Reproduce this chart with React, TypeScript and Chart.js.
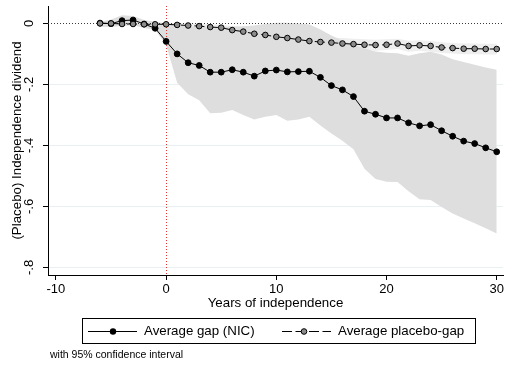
import React, { useEffect, useRef } from 'react';
import { Chart, registerables } from 'chart.js';

Chart.register(...registerables);

const years = [-6, -5, -4, -3, -2, -1, 0, 1, 2, 3, 4, 5, 6, 7, 8, 9, 10, 11, 12, 13, 14, 15, 16, 17, 18, 19, 20, 21, 22, 23, 24, 25, 26, 27, 28, 29, 30];

const gapNIC = [0.001, -0.001, 0.009, 0.011, -0.002, -0.016,
  -0.059, -0.100, -0.129, -0.138, -0.160, -0.160, -0.152, -0.160, -0.173, -0.156, -0.153, -0.159, -0.158, -0.157, -0.177, -0.204, -0.218, -0.240, -0.288, -0.298, -0.310, -0.310, -0.326, -0.336, -0.332, -0.352, -0.370, -0.386, -0.394, -0.408, -0.421];

const placeboGap = [0.000, 0.000, -0.002, -0.002, -0.003, -0.003,
  -0.003, -0.005, -0.007, -0.009, -0.012, -0.014, -0.022, -0.027, -0.034, -0.038, -0.044, -0.048, -0.053, -0.058, -0.061, -0.063, -0.066, -0.068, -0.070, -0.071, -0.070, -0.066, -0.074, -0.072, -0.074, -0.079, -0.081, -0.083, -0.083, -0.084, -0.084];

const nicUpper = [0.005, 0.013, 0.027, 0.024, 0.011, 0.005,
  0.000, -0.006, -0.010, -0.012, -0.012, -0.012, -0.010, -0.009, -0.007, -0.002, 0.002, 0.002, 0.000, -0.004, -0.020, -0.040, -0.057, -0.070, -0.082, -0.092, -0.096, -0.098, -0.106, -0.098, -0.093, -0.102, -0.118, -0.127, -0.136, -0.145, -0.152];

const nicLower = [-0.011, -0.012, -0.008, -0.006, -0.015, -0.022,
  -0.070, -0.195, -0.232, -0.252, -0.295, -0.293, -0.284, -0.300, -0.315, -0.306, -0.300, -0.319, -0.315, -0.306, -0.335, -0.361, -0.385, -0.413, -0.477, -0.510, -0.519, -0.520, -0.550, -0.577, -0.579, -0.602, -0.623, -0.640, -0.655, -0.672, -0.689];

const placeboUpper = [0.004, 0.004, 0.003, 0.003, 0.002, 0.002,
  0.002, 0.001, 0.000, -0.001, -0.003, -0.005, -0.009, -0.013, -0.019, -0.022, -0.027, -0.031, -0.036, -0.040, -0.042, -0.046, -0.048, -0.050, -0.052, -0.054, -0.052, -0.050, -0.057, -0.055, -0.058, -0.062, -0.064, -0.066, -0.066, -0.067, -0.067];

const placeboLower = [-0.004, -0.004, -0.007, -0.007, -0.008, -0.008,
  -0.009, -0.011, -0.014, -0.017, -0.021, -0.027, -0.035, -0.041, -0.049, -0.054, -0.061, -0.065, -0.070, -0.076, -0.078, -0.082, -0.084, -0.086, -0.088, -0.090, -0.087, -0.084, -0.093, -0.090, -0.093, -0.097, -0.099, -0.101, -0.101, -0.102, -0.102];

const xTicks = [-10, 0, 10, 20, 30];
const xTickLabels = ['-10', '0', '10', '20', '30'];
const yTicks = [-0.8, -0.6, -0.4, -0.2, 0];
const yTickLabels = ['-.8', '-.6', '-.4', '-.2', '0'];

const X_MIN = -10.72;
const X_MAX = 30.57;
const Y_MIN = -0.825;
const Y_MAX = 0.057;

const seriesLabels = ['Average gap (NIC)', 'Average placebo-gap'];
const xTitle = 'Years of independence';
const yTitle = '(Placebo) Independence dividend';
const note = 'with 95% confidence interval';

const FONT = 'Liberation Sans, Arial, Helvetica, sans-serif';

const pts = (vals: number[]) => years.map((x, i) => ({ x, y: vals[i] }));

const refLines = {
  id: 'refLines',
  beforeDatasetsDraw(chart: any) {
    const { ctx, chartArea, scales } = chart;
    ctx.save();
    ctx.lineWidth = 1;
    ctx.setLineDash([1, 2]);
    const y0 = Math.round(scales.y.getPixelForValue(0)) + 0.5;
    ctx.strokeStyle = '#3a3a3a';
    ctx.beginPath();
    ctx.moveTo(chartArea.left, y0);
    ctx.lineTo(chartArea.right, y0);
    ctx.stroke();
    const x0 = Math.round(scales.x.getPixelForValue(0)) + 0.5;
    ctx.strokeStyle = '#e8322b';
    ctx.beginPath();
    ctx.moveTo(x0, chartArea.top);
    ctx.lineTo(x0, chartArea.bottom);
    ctx.stroke();
    ctx.restore();
  },
};

const stataLegend = {
  id: 'stataLegend',
  afterDraw(chart: any) {
    const { ctx } = chart;
    ctx.save();
    ctx.lineWidth = 1;
    ctx.strokeStyle = '#000';
    ctx.setLineDash([]);
    ctx.strokeRect(82.5, 318.5, 393, 25);
    const ly = 331.5;
    // item 1
    ctx.beginPath();
    ctx.moveTo(88, ly);
    ctx.lineTo(137, ly);
    ctx.stroke();
    ctx.beginPath();
    ctx.arc(113, ly, 3.2, 0, Math.PI * 2);
    ctx.fillStyle = '#000';
    ctx.fill();
    ctx.font = `13.3px ${FONT}`;
    ctx.textBaseline = 'middle';
    ctx.textAlign = 'left';
    ctx.fillStyle = '#000';
    ctx.fillText(seriesLabels[0], 144, ly);
    // item 2
    ctx.setLineDash([10, 3.5]);
    ctx.beginPath();
    ctx.moveTo(282, ly);
    ctx.lineTo(331, ly);
    ctx.stroke();
    ctx.setLineDash([]);
    ctx.beginPath();
    ctx.arc(304, ly, 2.8, 0, Math.PI * 2);
    ctx.fillStyle = '#8c8c8c';
    ctx.fill();
    ctx.stroke();
    ctx.fillStyle = '#000';
    ctx.fillText(seriesLabels[1], 338, ly);
    // note
    ctx.font = `10.5px ${FONT}`;
    ctx.fillText(note, 50, 355);
    ctx.restore();
  },
};

export default function App() {
  const ref = useRef<HTMLCanvasElement>(null);
  useEffect(() => {
    const chart = new Chart(ref.current as HTMLCanvasElement, {
      type: 'line',
      data: {
        datasets: [
          {
            label: seriesLabels[1],
            data: pts(placeboGap),
            borderColor: '#000',
            borderWidth: 1,
            borderDash: [10, 3.5],
            pointRadius: 2.8,
            pointBackgroundColor: '#8c8c8c',
            pointBorderColor: '#000',
            pointBorderWidth: 1,
            tension: 0,
            fill: false,
          },
          {
            label: seriesLabels[0],
            data: pts(gapNIC),
            borderColor: '#000',
            borderWidth: 1,
            pointRadius: 2.9,
            pointBackgroundColor: '#000',
            pointBorderColor: '#000',
            pointBorderWidth: 1,
            tension: 0,
            fill: false,
          },
          {
            label: 'nicUpper',
            data: pts(nicUpper),
            borderColor: 'rgba(0,0,0,0)',
            borderWidth: 0,
            pointRadius: 0,
            backgroundColor: '#dedede',
            fill: '+1',
            tension: 0,
          },
          {
            label: 'nicLower',
            data: pts(nicLower),
            borderColor: 'rgba(0,0,0,0)',
            borderWidth: 0,
            pointRadius: 0,
            fill: false,
            tension: 0,
          },
          {
            label: 'placeboUpper',
            data: pts(placeboUpper),
            borderColor: 'rgba(0,0,0,0)',
            borderWidth: 0,
            pointRadius: 0,
            backgroundColor: '#eeeeee',
            fill: '+1',
            tension: 0,
          },
          {
            label: 'placeboLower',
            data: pts(placeboLower),
            borderColor: 'rgba(0,0,0,0)',
            borderWidth: 0,
            pointRadius: 0,
            fill: false,
            tension: 0,
          },
        ],
      },
      options: {
        animation: false,
        responsive: false,
        devicePixelRatio: 1,
        layout: { padding: { top: 6, left: 0, right: 0, bottom: 0 } },
        plugins: {
          legend: { display: false },
          tooltip: { enabled: false },
          filler: { drawTime: 'beforeDatasetsDraw' },
        } as any,
        scales: {
          x: {
            type: 'linear',
            min: X_MIN,
            max: X_MAX,
            afterBuildTicks: (s: any) => {
              s.ticks = xTicks.map((v) => ({ value: v }));
            },
            afterFit: (s: any) => {
              s.height = 90;
              s.paddingLeft = 0;
              s.paddingRight = 0;
            },
            ticks: {
              color: '#000',
              font: { family: FONT, size: 13 },
              padding: 1.5,
              maxRotation: 0,
              minRotation: 0,
              callback: (v: any) => xTickLabels[xTicks.indexOf(Number(v))] ?? '',
            },
            grid: {
              drawOnChartArea: false,
              tickLength: 5,
              color: '#000',
              tickColor: '#000',
            },
            border: { display: true, color: '#000', width: 1 },
            title: {
              display: true,
              text: xTitle,
              color: '#000',
              font: { family: FONT, size: 13.3 },
              padding: { top: 0, bottom: 54 },
            },
          },
          y: {
            type: 'linear',
            min: Y_MIN,
            max: Y_MAX,
            afterBuildTicks: (s: any) => {
              s.ticks = yTicks.map((v) => ({ value: v }));
            },
            afterFit: (s: any) => {
              s.width = 48;
              s.paddingTop = 0;
              s.paddingBottom = 0;
            },
            ticks: {
              color: '#000',
              font: { family: FONT, size: 13 },
              padding: 5.5,
              minRotation: 90,
              maxRotation: 90,
              crossAlign: 'center',
              callback: (v: any) => {
                const i = yTicks.findIndex((t) => Math.abs(t - Number(v)) < 1e-9);
                return i >= 0 ? yTickLabels[i] : '';
              },
            },
            grid: {
              color: (c: any) => (c.tick && Math.abs(c.tick.value) < 1e-9 ? 'rgba(0,0,0,0)' : '#e8f0f2'),
              tickColor: '#000',
              tickLength: 5,
              lineWidth: 1,
            },
            border: { display: true, color: '#000', width: 1 },
            title: {
              display: true,
              text: yTitle,
              color: '#000',
              font: { family: FONT, size: 13.3 },
              padding: { top: 9.8, bottom: 0 },
            },
          },
        },
      } as any,
      plugins: [refLines, stataLegend],
    });
    return () => chart.destroy();
  }, []);

  return (
    <div style={{ position: 'fixed', left: 0, top: 0, width: 508, height: 365, overflow: 'hidden', background: '#fff' }}>
      <canvas ref={ref} width={508} height={365} style={{ display: 'block', width: 508, height: 365 }} />
    </div>
  );
}
